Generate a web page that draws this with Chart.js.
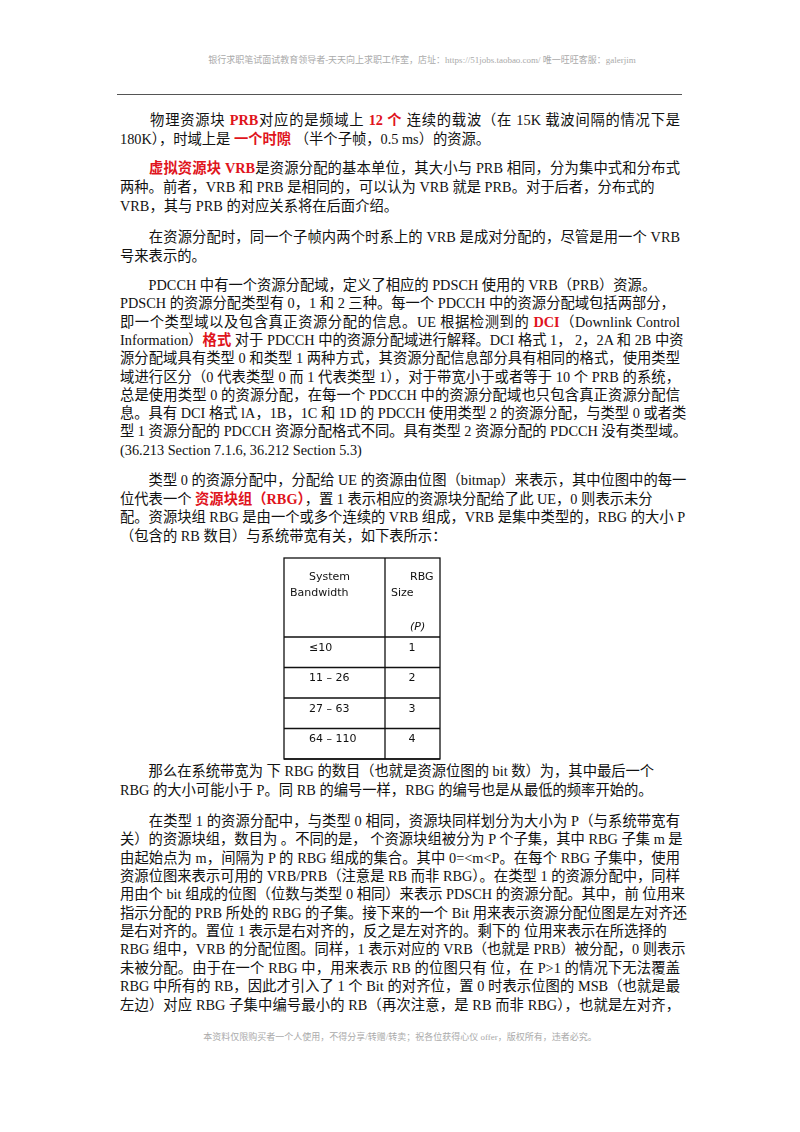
<!DOCTYPE html>
<html><head><meta charset="utf-8">
<script src="https://cdn.jsdelivr.net/npm/chart.js@4.4.1/dist/chart.umd.min.js"></script>
<style>
body{margin:0;width:800px;height:1132px;background:#fff;position:relative;font-family:"Liberation Serif","Noto Sans CJK SC",serif;color:#111;}
.l{position:absolute;left:120px;width:560px;font-size:14.3px;line-height:19px;white-space:nowrap;text-align:justify;text-align-last:justify;}
.e{text-align-last:left;}
.r{color:#e0141c;font-weight:bold;}
.wm{position:absolute;font-size:9px;color:#aaa;width:800px;text-align:center;}
#tb{position:absolute;left:283px;top:557px;width:158px;height:204px;}
</style></head><body>
<div class="wm" style="top:53px;left:22px">银行求职笔试面试教育领导者-天天向上求职工作室，店址：https://51jobs.taobao.com/ 唯一旺旺客服：galerjim</div>
<div style="position:absolute;left:117px;top:94px;width:565px;height:1px;background:#555"></div>
<div id="txt"></div>
<div id="tb"><canvas id="c"></canvas></div>
<div class="wm" style="top:1030px">本资料仅限购买者一个人使用，不得分享/转赠/转卖；祝各位获得心仪 offer，版权所有，违者必究。</div>
<script>
const bandwidths = ['≤10', '11 – 26', '27 – 63', '64 – 110'];
const rbgSizes = [1, 2, 3, 4];

const lines = [
 [111,'　　物理资源块 <span class="r">PRB</span>对应的是频域上 <span class="r">12 个</span> 连续的载波（在 15K 载波间隔的情况下是',0],
 [130,'180K），时域上是 <span class="r">一个时隙</span> （半个子帧，0.5 ms）的资源。',1],
 [159,'　　<span class="r">虚拟资源块 VRB</span>是资源分配的基本单位，其大小与 PRB 相同，分为集中式和分布式',0],
 [178,'两种。前者，VRB 和 PRB 是相同的，可以认为 VRB 就是 PRB。对于后者，分布式的',1],
 [197,'VRB，其与 PRB 的对应关系将在后面介绍。',1],
 [228,'　　在资源分配时，同一个子帧内两个时系上的 VRB 是成对分配的，尽管是用一个 VRB',0],
 [247,'号来表示的。',1],
 [276,'　　PDCCH 中有一个资源分配域，定义了相应的 PDSCH 使用的 VRB（PRB）资源。',1],
 [294,'PDSCH 的资源分配类型有 0，1 和 2 三种。每一个 PDCCH 中的资源分配域包括两部分，',1],
 [313,'即一个类型域以及包含真正资源分配的信息。UE 根据检测到的 <span class="r">DCI</span>（Downlink Control',0],
 [331,'Information）<span class="r">格式</span> 对于 PDCCH 中的资源分配域进行解释。DCI 格式 1， 2，2A 和 2B 中资',0],
 [349,'源分配域具有类型 0 和类型 1 两种方式，其资源分配信息部分具有相同的格式，使用类型',0],
 [368,'域进行区分（0 代表类型 0 而 1 代表类型 1），对于带宽小于或者等于 10 个 PRB 的系统，',0],
 [386,'总是使用类型 0 的资源分配，在每一个 PDCCH 中的资源分配域也只包含真正资源分配信',0],
 [404,'息。具有 DCI 格式 lA，1B，1C 和 1D 的 PDCCH 使用类型 2 的资源分配，与类型 0 或者类',0],
 [422,'型 1 资源分配的 PDCCH 资源分配格式不同。具有类型 2 资源分配的 PDCCH 没有类型域。',0],
 [441,'(36.213 Section 7.1.6, 36.212 Section 5.3)',1],
 [471,'　　类型 0 的资源分配中，分配给 UE 的资源由位图（bitmap）来表示，其中位图中的每一',0],
 [490,'位代表一个 <span class="r">资源块组（RBG）</span>，置 1 表示相应的资源块分配给了此 UE，0 则表示未分',1],
 [508,'配。资源块组 RBG 是由一个或多个连续的 VRB 组成，VRB 是集中类型的，RBG 的大小 P',0],
 [527,'（包含的 RB 数目）与系统带宽有关，如下表所示：',1],
 [762,'　　那么在系统带宽为 下 RBG 的数目（也就是资源位图的 bit 数）为，其中最后一个',1],
 [781,'RBG 的大小可能小于 P。同 RB 的编号一样，RBG 的编号也是从最低的频率开始的。',1],
 [812,'　　在类型 1 的资源分配中，与类型 0 相同，资源块同样划分为大小为 P（与系统带宽有',0],
 [830,'关）的资源块组，数目为 。不同的是， 个资源块组被分为 P 个子集，其中 RBG 子集 m 是',0],
 [849,'由起始点为 m，间隔为 P 的 RBG 组成的集合。其中 0=&lt;m&lt;P。在每个 RBG 子集中，使用',0],
 [867,'资源位图来表示可用的 VRB/PRB（注意是 RB 而非 RBG）。在类型 1 的资源分配中，同样',0],
 [885,'用由个 bit 组成的位图（位数与类型 0 相同）来表示 PDSCH 的资源分配。其中，前 位用来',0],
 [904,'指示分配的 PRB 所处的 RBG 的子集。接下来的一个 Bit 用来表示资源分配位图是左对齐还',0],
 [922,'是右对齐的。置位 1 表示是右对齐的，反之是左对齐的。剩下的 位用来表示在所选择的',1],
 [940,'RBG 组中，VRB 的分配位图。同样，1 表示对应的 VRB（也就是 PRB）被分配，0 则表示',0],
 [959,'未被分配。由于在一个 RBG 中，用来表示 RB 的位图只有 位，在 P&gt;1 的情况下无法覆盖',0],
 [977,'RBG 中所有的 RB，因此才引入了 1 个 Bit 的对齐位，置 0 时表示位图的 MSB（也就是最',0],
 [996,'左边）对应 RBG 子集中编号最小的 RB（再次注意，是 RB 而非 RBG），也就是左对齐，',0]
];
document.getElementById('txt').innerHTML = lines.map(([t, h, e]) =>
  `<div class="l${e ? ' e' : ''}" style="top:${t}px">${h}</div>`).join('');

// table drawn on the chart canvas, rows placed by the y scale
const tablePlugin = {
  id: 'table',
  afterDraw(chart) {
    const ctx = chart.ctx, y = chart.scales.y;
    const L = 1, R = chart.width - 1, M = 102, T = 1;
    const step = y.getPixelForValue(1) - y.getPixelForValue(0);
    const top = y.getPixelForValue(0) - step / 2, bot = y.getPixelForValue(3) + step / 2;
    ctx.save();
    ctx.strokeStyle = '#111'; ctx.lineWidth = 1.3;
    ctx.strokeRect(L, T, R - L, bot - T);
    ctx.beginPath(); ctx.moveTo(M, T); ctx.lineTo(M, bot);
    ctx.moveTo(L, top); ctx.lineTo(R, top);
    bandwidths.forEach((b, i) => {
      const yy = y.getPixelForValue(i) + step / 2;
      ctx.moveTo(L, yy); ctx.lineTo(R, yy);
    });
    ctx.stroke();
    ctx.fillStyle = '#111'; ctx.font = '11px "DejaVu Sans"'; ctx.textBaseline = 'middle';
    ctx.textAlign = 'left';
    ctx.fillText('System', 26, 20); ctx.fillText('Bandwidth', 7, 36);
    ctx.fillText('RBG', 127, 20); ctx.fillText('Size', 108, 36);
    ctx.font = 'italic 11px "DejaVu Sans"'; ctx.fillText('(P)', 127, 70);
    ctx.font = '11px "DejaVu Sans"';
    bandwidths.forEach((b, i) => {
      const yy = y.getPixelForValue(i) - step / 2 + 11;
      ctx.textAlign = 'left'; ctx.fillText(b, 26, yy);
      ctx.textAlign = 'center'; ctx.fillText(String(rbgSizes[i]), 129, yy);
    });
    ctx.restore();
  }
};
new Chart(document.getElementById('c'), {
  type: 'bar',
  data: { labels: bandwidths, datasets: [{ data: rbgSizes, backgroundColor: 'rgba(0,0,0,0)' }] },
  options: {
    indexAxis: 'y', responsive: true, maintainAspectRatio: false, animation: false,
    layout: { padding: { top: 80, bottom: 2, left: 0, right: 0 } },
    plugins: { legend: { display: false }, tooltip: { enabled: false } },
    scales: { x: { display: false, min: 0, max: 5 }, y: { display: false } }
  },
  plugins: [tablePlugin]
});
</script>
</body></html>
